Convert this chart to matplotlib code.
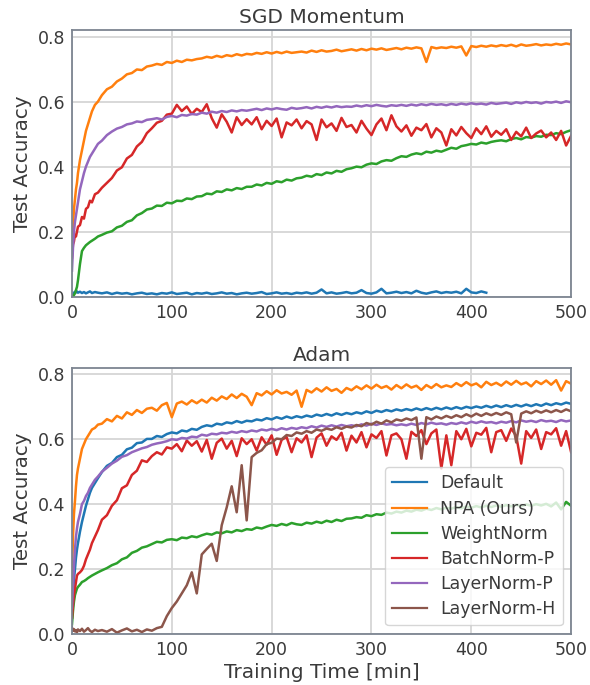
import matplotlib
matplotlib.use("Agg")
import matplotlib.pyplot as plt

# ---------------------------------------------------------------------------
# Data (test accuracy read off the reference, sampled on a common time grid)
# ---------------------------------------------------------------------------

TIME_EARLY = [0, 1, 2, 3, 4, 5, 6, 8, 10, 12, 14, 16, 18, 20, 23, 26]
TIME_LATE = list(range(30, 501, 5))
TIME = TIME_EARLY + TIME_LATE

LABELS = ["Default", "NPA (Ours)", "WeightNorm", "BatchNorm-P",
          "LayerNorm-P", "LayerNorm-H"]
COLORS = ["#1f77b4", "#ff7f0e", "#2ca02c", "#d62728", "#9467bd", "#8c564b"]

# --- SGD Momentum ---
SGD_DEFAULT = [
    0.0, 0.005, 0.012, 0.015, 0.013, 0.016, 0.012, 0.015, 0.011, 0.014, 0.010, 0.013, 0.016, 0.011, 0.014, 0.012,
    0.010, 0.013, 0.008, 0.012, 0.009, 0.011, 0.007, 0.010, 0.012, 0.008,
    0.010, 0.007, 0.011, 0.009, 0.013, 0.008, 0.010, 0.012, 0.007, 0.011,
    0.009, 0.012, 0.008, 0.010, 0.013, 0.009, 0.011, 0.007, 0.010, 0.012,
    0.009, 0.011, 0.014, 0.008, 0.010, 0.013, 0.009, 0.011, 0.008, 0.012,
    0.010, 0.013, 0.009, 0.012, 0.022, 0.010, 0.013, 0.009, 0.011, 0.014,
    0.010, 0.012, 0.020, 0.011, 0.009, 0.013, 0.024, 0.010, 0.012, 0.015,
    0.011, 0.014, 0.010, 0.018, 0.012, 0.009, 0.013, 0.016, 0.011, 0.014,
    0.012, 0.015, 0.010, 0.024, 0.013, 0.011, 0.016, 0.012,
]
SGD_NPA = [
    0.15, 0.22, 0.27, 0.30, 0.33, 0.35, 0.38, 0.42, 0.45, 0.48, 0.51, 0.53, 0.55, 0.57, 0.59, 0.60,
    0.620, 0.638, 0.646, 0.662, 0.671, 0.684, 0.688, 0.699, 0.697, 0.708,
    0.711, 0.716, 0.713, 0.722, 0.719, 0.726, 0.722, 0.729, 0.727, 0.731,
    0.733, 0.738, 0.735, 0.741, 0.737, 0.743, 0.740, 0.746, 0.742, 0.747,
    0.745, 0.750, 0.747, 0.752, 0.748, 0.753, 0.749, 0.754, 0.750, 0.752,
    0.754, 0.751, 0.757, 0.753, 0.758, 0.754, 0.756, 0.760, 0.755, 0.758,
    0.761, 0.757, 0.762, 0.758, 0.763, 0.760, 0.764, 0.759, 0.762, 0.765,
    0.761, 0.766, 0.763, 0.767, 0.764, 0.722, 0.768, 0.764, 0.767, 0.765,
    0.769, 0.766, 0.770, 0.742, 0.771, 0.768, 0.772, 0.769, 0.773, 0.770,
    0.774, 0.771, 0.775, 0.770, 0.776, 0.772, 0.774, 0.777, 0.773, 0.776,
    0.774, 0.778, 0.775, 0.779, 0.776,
]
SGD_WEIGHTNORM = [
    0.0, 0.0, 0.005, 0.01, 0.02, 0.03, 0.05, 0.10, 0.14, 0.15, 0.158, 0.163, 0.168, 0.172, 0.178, 0.185,
    0.190, 0.197, 0.201, 0.213, 0.218, 0.230, 0.235, 0.250, 0.257, 0.268,
    0.271, 0.280, 0.279, 0.289, 0.287, 0.295, 0.294, 0.302, 0.300, 0.308,
    0.309, 0.317, 0.315, 0.324, 0.322, 0.330, 0.327, 0.334, 0.331, 0.338,
    0.338, 0.345, 0.342, 0.350, 0.347, 0.355, 0.352, 0.360, 0.357, 0.364,
    0.366, 0.372, 0.369, 0.377, 0.374, 0.382, 0.379, 0.387, 0.384, 0.392,
    0.395, 0.400, 0.398, 0.406, 0.410, 0.408, 0.416, 0.420, 0.418, 0.426,
    0.432, 0.430, 0.437, 0.441, 0.438, 0.446, 0.443, 0.449, 0.446, 0.452,
    0.458, 0.455, 0.463, 0.466, 0.470, 0.468, 0.474, 0.471, 0.476, 0.479,
    0.481, 0.478, 0.485, 0.488, 0.484, 0.491, 0.489, 0.494, 0.492, 0.498,
    0.497, 0.503, 0.500, 0.507, 0.512,
]
SGD_BATCHNORM = [
    0.12, 0.16, 0.17, 0.19, 0.185, 0.20, 0.215, 0.22, 0.245, 0.24, 0.27, 0.275, 0.295, 0.29, 0.315, 0.32,
    0.335, 0.350, 0.365, 0.388, 0.398, 0.425, 0.436, 0.462, 0.476, 0.503,
    0.518, 0.535, 0.541, 0.560, 0.563, 0.590, 0.571, 0.585, 0.562, 0.578,
    0.568, 0.592, 0.549, 0.520, 0.561, 0.538, 0.505, 0.552, 0.528, 0.546,
    0.530, 0.552, 0.515, 0.541, 0.525, 0.548, 0.490, 0.536, 0.527, 0.545,
    0.518, 0.540, 0.530, 0.482, 0.545, 0.521, 0.533, 0.510, 0.550, 0.522,
    0.528, 0.505, 0.541, 0.517, 0.497, 0.530, 0.548, 0.512, 0.558, 0.524,
    0.508, 0.527, 0.495, 0.520, 0.512, 0.531, 0.490, 0.518, 0.505, 0.465,
    0.515, 0.496, 0.522, 0.503, 0.488, 0.518, 0.500, 0.524, 0.492, 0.510,
    0.498, 0.515, 0.482, 0.507, 0.493, 0.520, 0.488, 0.502, 0.511, 0.490,
    0.505, 0.482, 0.510, 0.465, 0.495,
]
SGD_LAYERNORM_P = [
    0.08, 0.15, 0.20, 0.23, 0.25, 0.27, 0.29, 0.33, 0.355, 0.38, 0.40, 0.415, 0.43, 0.44, 0.455, 0.47,
    0.480, 0.497, 0.508, 0.517, 0.522, 0.530, 0.533, 0.539, 0.537, 0.544,
    0.546, 0.549, 0.545, 0.553, 0.556, 0.552, 0.559, 0.557, 0.562, 0.560,
    0.566, 0.563, 0.569, 0.566, 0.571, 0.568, 0.573, 0.570, 0.574, 0.572,
    0.575, 0.578, 0.574, 0.579, 0.576, 0.580, 0.577, 0.575, 0.581, 0.578,
    0.580, 0.583, 0.579, 0.584, 0.581, 0.585, 0.582, 0.586, 0.583, 0.585,
    0.584, 0.588, 0.585, 0.589, 0.586, 0.590, 0.587, 0.585, 0.589, 0.587,
    0.590, 0.587, 0.591, 0.588, 0.592, 0.589, 0.593, 0.590, 0.592, 0.589,
    0.593, 0.590, 0.594, 0.591, 0.595, 0.592, 0.594, 0.591, 0.596, 0.593,
    0.595, 0.597, 0.593, 0.598, 0.595, 0.599, 0.596, 0.598, 0.594, 0.599,
    0.597, 0.600, 0.596, 0.601, 0.598,
]

# --- Adam ---
ADAM_DEFAULT = [
    0.05, 0.12, 0.17, 0.20, 0.235, 0.26, 0.28, 0.315, 0.345, 0.37, 0.395, 0.415, 0.435, 0.45, 0.465, 0.48,
    0.499, 0.518, 0.527, 0.545, 0.552, 0.569, 0.574, 0.588, 0.590, 0.601,
    0.601, 0.610, 0.607, 0.616, 0.621, 0.618, 0.627, 0.624, 0.632, 0.629,
    0.638, 0.643, 0.640, 0.648, 0.645, 0.652, 0.649, 0.656, 0.651, 0.657,
    0.655, 0.661, 0.658, 0.665, 0.661, 0.668, 0.663, 0.670, 0.665, 0.671,
    0.667, 0.673, 0.669, 0.676, 0.672, 0.678, 0.673, 0.680, 0.675, 0.681,
    0.677, 0.683, 0.679, 0.686, 0.681, 0.688, 0.684, 0.690, 0.686, 0.692,
    0.688, 0.693, 0.689, 0.695, 0.690, 0.696, 0.691, 0.697, 0.692, 0.698,
    0.693, 0.699, 0.694, 0.700, 0.696, 0.701, 0.697, 0.703, 0.698, 0.704,
    0.699, 0.705, 0.700, 0.706, 0.701, 0.707, 0.702, 0.708, 0.703, 0.710,
    0.705, 0.711, 0.707, 0.713, 0.709,
]
ADAM_NPA = [
    0.18, 0.30, 0.37, 0.41, 0.455, 0.49, 0.51, 0.54, 0.57, 0.585, 0.60, 0.61, 0.62, 0.63, 0.635, 0.645,
    0.648, 0.662, 0.655, 0.672, 0.664, 0.683, 0.675, 0.690, 0.681, 0.694,
    0.697, 0.688, 0.705, 0.712, 0.668, 0.710, 0.716, 0.707, 0.720, 0.711,
    0.722, 0.713, 0.728, 0.719, 0.732, 0.724, 0.738, 0.727, 0.740, 0.731,
    0.705, 0.742, 0.735, 0.748, 0.738, 0.751, 0.741, 0.746, 0.737, 0.750,
    0.700, 0.752, 0.744, 0.757, 0.747, 0.760, 0.749, 0.755, 0.743, 0.758,
    0.751, 0.763, 0.754, 0.766, 0.756, 0.768, 0.758, 0.764, 0.753, 0.767,
    0.757, 0.769, 0.759, 0.765, 0.752, 0.767, 0.758, 0.770, 0.760, 0.766,
    0.761, 0.773, 0.764, 0.776, 0.766, 0.772, 0.760, 0.777, 0.767, 0.774,
    0.765, 0.778, 0.768, 0.780, 0.769, 0.775, 0.763, 0.779, 0.770, 0.781,
    0.768, 0.782, 0.750, 0.779, 0.771,
]
ADAM_WEIGHTNORM = [
    0.03, 0.07, 0.10, 0.12, 0.13, 0.14, 0.145, 0.152, 0.16, 0.163, 0.167, 0.172, 0.176, 0.18, 0.185, 0.19,
    0.196, 0.203, 0.212, 0.218, 0.230, 0.236, 0.250, 0.256, 0.266, 0.270,
    0.277, 0.284, 0.282, 0.290, 0.292, 0.289, 0.297, 0.295, 0.301, 0.298,
    0.304, 0.309, 0.306, 0.313, 0.310, 0.316, 0.313, 0.320, 0.317, 0.323,
    0.321, 0.328, 0.325, 0.331, 0.336, 0.333, 0.339, 0.335, 0.342, 0.338,
    0.336, 0.343, 0.340, 0.346, 0.342, 0.349, 0.345, 0.352, 0.348, 0.355,
    0.356, 0.360, 0.358, 0.366, 0.363, 0.369, 0.367, 0.374, 0.371, 0.377,
    0.374, 0.380, 0.377, 0.383, 0.380, 0.386, 0.382, 0.388, 0.384, 0.389,
    0.386, 0.391, 0.387, 0.393, 0.389, 0.394, 0.390, 0.395, 0.391, 0.396,
    0.392, 0.397, 0.393, 0.398, 0.394, 0.399, 0.395, 0.400, 0.396, 0.401,
    0.393, 0.405, 0.384, 0.407, 0.395,
]
ADAM_BATCHNORM = [
    0.05, 0.09, 0.12, 0.14, 0.16, 0.18, 0.185, 0.19, 0.197, 0.21, 0.23, 0.245, 0.26, 0.28, 0.30, 0.32,
    0.352, 0.366, 0.395, 0.412, 0.449, 0.458, 0.490, 0.503, 0.535, 0.530,
    0.548, 0.560, 0.553, 0.575, 0.571, 0.585, 0.563, 0.596, 0.580, 0.594,
    0.562, 0.598, 0.540, 0.589, 0.602, 0.571, 0.595, 0.548, 0.603, 0.585,
    0.600, 0.565, 0.606, 0.583, 0.612, 0.552, 0.598, 0.607, 0.560, 0.603,
    0.590, 0.612, 0.545, 0.605, 0.618, 0.580, 0.609, 0.598, 0.620, 0.565,
    0.611, 0.590, 0.622, 0.575, 0.615, 0.604, 0.625, 0.550, 0.612, 0.618,
    0.600, 0.540, 0.623, 0.610, 0.628, 0.585, 0.618, 0.630, 0.510, 0.612,
    0.520, 0.625, 0.600, 0.632, 0.578, 0.620, 0.614, 0.635, 0.560, 0.622,
    0.628, 0.595, 0.633, 0.610, 0.525, 0.625, 0.604, 0.630, 0.570, 0.622,
    0.615, 0.634, 0.580, 0.625, 0.560,
]
ADAM_LAYERNORM_P = [
    0.08, 0.15, 0.21, 0.26, 0.30, 0.325, 0.345, 0.37, 0.40, 0.41, 0.425, 0.435, 0.45, 0.46, 0.475, 0.485,
    0.500, 0.512, 0.525, 0.534, 0.546, 0.551, 0.560, 0.566, 0.572, 0.576,
    0.583, 0.587, 0.590, 0.594, 0.600, 0.598, 0.604, 0.602, 0.608, 0.606,
    0.614, 0.611, 0.617, 0.615, 0.620, 0.618, 0.623, 0.620, 0.625, 0.622,
    0.627, 0.624, 0.630, 0.627, 0.632, 0.628, 0.634, 0.630, 0.635, 0.632,
    0.637, 0.634, 0.640, 0.636, 0.642, 0.638, 0.643, 0.639, 0.644, 0.640,
    0.643, 0.640, 0.646, 0.642, 0.648, 0.644, 0.649, 0.645, 0.647, 0.643,
    0.646, 0.643, 0.648, 0.644, 0.650, 0.646, 0.651, 0.647, 0.649, 0.645,
    0.650, 0.647, 0.652, 0.648, 0.654, 0.650, 0.655, 0.651, 0.653, 0.649,
    0.654, 0.651, 0.656, 0.652, 0.658, 0.654, 0.657, 0.653, 0.659, 0.655,
    0.657, 0.653, 0.659, 0.655, 0.658,
]
ADAM_LAYERNORM_H = [
    0.02, 0.01, 0.015, 0.008, 0.012, 0.005, 0.014, 0.009, 0.016, 0.007, 0.012, 0.018, 0.010, 0.006, 0.013, 0.009,
    0.012, 0.007, 0.015, 0.004, 0.011, 0.017, 0.008, 0.013, 0.006, 0.014,
    0.010, 0.018, 0.022, 0.055, 0.080, 0.100, 0.125, 0.150, 0.190, 0.125,
    0.245, 0.262, 0.278, 0.225, 0.335, 0.390, 0.455, 0.375, 0.520, 0.350,
    0.545, 0.558, 0.566, 0.585, 0.589, 0.602, 0.600, 0.613, 0.610, 0.621,
    0.617, 0.625, 0.620, 0.630, 0.626, 0.633, 0.629, 0.637, 0.632, 0.639,
    0.636, 0.644, 0.640, 0.650, 0.645, 0.654, 0.648, 0.658, 0.652, 0.661,
    0.657, 0.664, 0.659, 0.667, 0.540, 0.668, 0.661, 0.670, 0.664, 0.672,
    0.666, 0.674, 0.668, 0.677, 0.670, 0.679, 0.672, 0.680, 0.674, 0.681,
    0.675, 0.683, 0.677, 0.590, 0.679, 0.686, 0.680, 0.688, 0.682, 0.689,
    0.683, 0.690, 0.684, 0.692, 0.686,
]

PANELS = [
    ("SGD Momentum", [SGD_DEFAULT, SGD_NPA, SGD_WEIGHTNORM, SGD_BATCHNORM,
                      SGD_LAYERNORM_P, None]),
    ("Adam", [ADAM_DEFAULT, ADAM_NPA, ADAM_WEIGHTNORM, ADAM_BATCHNORM,
              ADAM_LAYERNORM_P, ADAM_LAYERNORM_H]),
]

# ---------------------------------------------------------------------------
# Plot
# ---------------------------------------------------------------------------

TEXT = "#3a3a3a"
plt.rcParams.update({
    "font.family": "DejaVu Sans",
    "text.color": TEXT,
    "axes.labelcolor": TEXT,
    "xtick.color": TEXT,
    "ytick.color": TEXT,
})


def main():
    fig = plt.figure(figsize=(5.9, 6.85), dpi=100)
    boxes = [[0.122, 0.567, 0.846, 0.389], [0.122, 0.0745, 0.846, 0.3885]]

    for i, ((title, series), box) in enumerate(zip(PANELS, boxes)):
        ax = fig.add_axes(box)
        for label, color, ys in zip(LABELS, COLORS, series):
            if ys is None:
                continue
            ax.plot(TIME[:len(ys)], ys, color=color, linewidth=1.8,
                    label=label)
        ax.set_xlim(0, 500)
        ax.set_ylim(0, 0.82)
        ax.set_xticks([0, 100, 200, 300, 400, 500])
        ax.set_yticks([0.0, 0.2, 0.4, 0.6, 0.8])
        ax.set_yticklabels(["0.0", "0.2", "0.4", "0.6", "0.8"])
        ax.tick_params(axis="both", labelsize=12.5, length=0, pad=5)
        ax.grid(True, color="#d6d6d6", linewidth=1.3)
        ax.set_axisbelow(True)
        for sp in ax.spines.values():
            sp.set_color("#7d8591")
            sp.set_linewidth(1.3)
        ax.set_title(title, fontsize=14.5, pad=5)
        ax.set_ylabel("Test Accuracy", fontsize=14.3)
        if i == 1:
            ax.set_xlabel("Training Time [min]", fontsize=14.5, labelpad=3)
            leg = ax.legend(loc="lower right", fontsize=12.4, framealpha=0.8,
                            labelspacing=0.42, borderaxespad=0.5,
                            handlelength=2.0)
            leg.get_frame().set_edgecolor("#cccccc")
            for h in leg.get_lines():
                h.set_linewidth(1.6)

    fig.savefig("out.png", dpi=100)


if __name__ == "__main__":
    main()
